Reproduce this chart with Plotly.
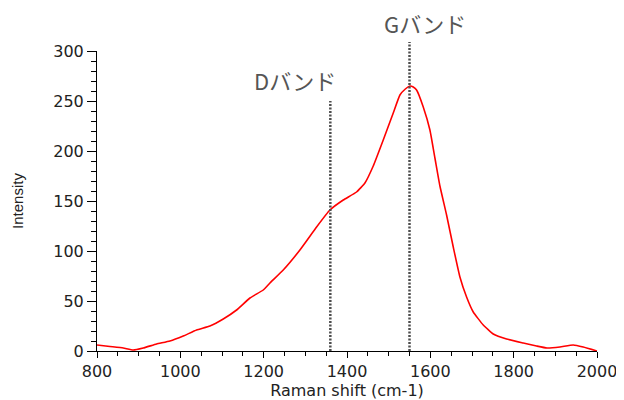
import plotly.graph_objects as go

# Raman spectrum
raman_shift = [800, 831, 863, 887, 911, 943, 975, 1007, 1039, 1071, 1103, 1135,
               1167, 1199, 1215, 1247, 1287, 1327, 1359, 1391, 1423, 1443, 1463,
               1487, 1511, 1527, 1540, 1551, 1559, 1567, 1583, 1599, 1611, 1623,
               1639, 1655, 1671, 1687, 1703, 1727, 1751, 1783, 1823, 1855, 1880,
               1911, 1943, 1967, 2000]
intensity = [6, 4.5, 3, 1, 3, 7, 10, 15, 21, 25, 32, 41,
             53, 61, 68, 81, 101, 124, 141, 151, 159, 168, 185,
             211, 238, 256, 262, 265, 264, 261, 244, 221, 193, 165,
             136, 104, 74, 54, 39, 26, 17, 12, 8, 5, 3,
             4, 6, 4, 0]

band_names = ["Dバンド", "Gバンド"]
band_positions = [1360, 1550]
band_label_x = [1274, 1588]

x_ticks = [800, 1000, 1200, 1400, 1600, 1800, 2000]
y_ticks = [0, 50, 100, 150, 200, 250, 300]

fig = go.Figure()
fig.add_trace(go.Scatter(x=raman_shift, y=intensity, mode="lines",
                         line=dict(color="#ff0000", width=1.6, shape="spline", smoothing=0.4),
                         showlegend=False, hoverinfo="skip"))

# vertical band markers
fig.add_shape(type="line", xref="x", yref="paper", x0=band_positions[0], x1=band_positions[0],
              y0=0, y1=0.833, line=dict(color="#4d4d4d", width=2.5, dash="2px,1.5px"))
fig.add_shape(type="line", xref="x", yref="paper", x0=band_positions[1], x1=band_positions[1],
              y0=0, y1=1.03, line=dict(color="#4d4d4d", width=2.5, dash="2px,1.5px"))

for name, lx, py in zip(band_names, band_label_x, [0.903, 1.095]):
    fig.add_annotation(x=lx, y=py, xref="x", yref="paper", text=name, showarrow=False,
                       xanchor="center", yanchor="middle",
                       font=dict(family="Noto Sans CJK JP", size=22, color="#555555"))

tick_font = dict(family="DejaVu Sans", size=16, color="#222222")
fig.update_xaxes(range=[800, 2000], tickvals=x_ticks, ticks="outside", ticklen=6,
                 tickcolor="black", showline=True, linecolor="black", linewidth=1,
                 showgrid=False, zeroline=False, tickfont=tick_font, automargin=False,
                 minor=dict(dtick=50, ticks="outside", ticklen=4, tickcolor="black", showgrid=False),
                 title=dict(text="Raman shift (cm-1)", standoff=2,
                            font=dict(family="DejaVu Sans", size=16, color="#222222")))
fig.update_yaxes(range=[0, 300], tickvals=y_ticks, ticks="outside", ticklen=9,
                 tickcolor="black", showline=True, linecolor="black", linewidth=1,
                 showgrid=False, zeroline=False, tickfont=tick_font, automargin=False,
                 minor=dict(dtick=10, ticks="outside", ticklen=5, tickcolor="black", showgrid=False),
                 title=dict(text="Intensity", standoff=26,
                            font=dict(family="Liberation Sans", size=15, color="#222222")))

# page body has an 8px margin, so the figure is sized to fit the window
fig.update_layout(width=616, height=392, margin=dict(l=89, r=27, t=43, b=49),
                  plot_bgcolor="white", paper_bgcolor="white")
fig.write_html("out.html")
